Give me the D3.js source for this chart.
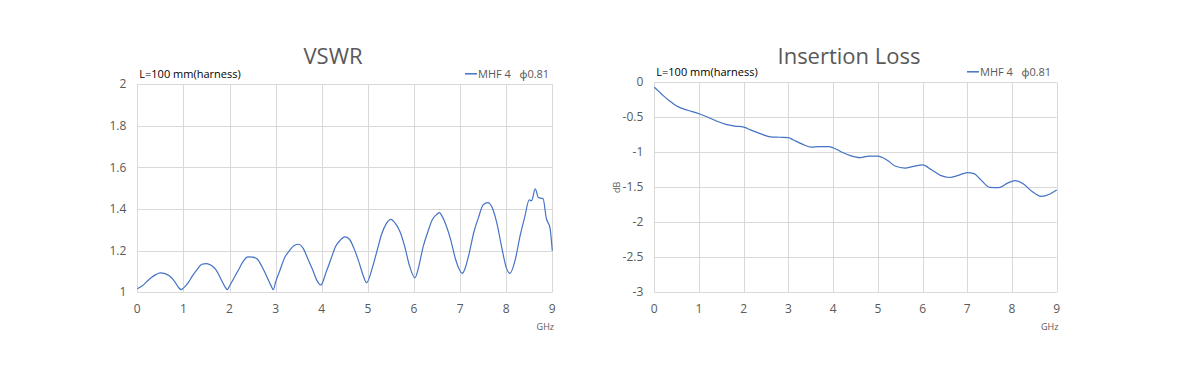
<!DOCTYPE html>
<html>
<head>
<meta charset="utf-8">
<script src="https://cdn.jsdelivr.net/npm/d3@7"></script>
<style>
  body { margin: 0; background: #fff; }
  text { font-family: "Open Sans", "Noto Sans", sans-serif; }
</style>
</head>
<body>
<div id="charts"></div>
<script>
  // VSWR, GHz vs ratio
  var vswrFreq = [0, 0.1, 0.2, 0.3, 0.4, 0.5, 0.6, 0.7, 0.8, 0.9, 0.95,
    1.0, 1.1, 1.2, 1.3, 1.4, 1.5, 1.6, 1.7, 1.8, 1.9, 1.95,
    2.0, 2.1, 2.2, 2.3, 2.4, 2.5, 2.6, 2.7, 2.8, 2.9, 2.95,
    3.0, 3.1, 3.2, 3.3, 3.4, 3.5, 3.6, 3.7, 3.8, 3.9, 3.98,
    4.1, 4.2, 4.3, 4.4, 4.5, 4.6, 4.7, 4.8, 4.9, 4.97,
    5.1, 5.2, 5.3, 5.4, 5.5, 5.6, 5.7, 5.8, 5.9, 6.02,
    6.1, 6.2, 6.3, 6.4, 6.5, 6.55, 6.6, 6.7, 6.8, 6.9, 7.05,
    7.1, 7.2, 7.3, 7.4, 7.5, 7.6, 7.7, 7.8, 7.9, 8.0, 8.08,
    8.2, 8.3, 8.4, 8.5, 8.55, 8.63, 8.7, 8.8, 8.87, 8.95, 9.0]
  var vswrValue = [1.017, 1.03, 1.05, 1.07, 1.085, 1.093, 1.09, 1.078, 1.055, 1.022, 1.013,
    1.02, 1.045, 1.08, 1.11, 1.135, 1.138, 1.13, 1.11, 1.07, 1.027, 1.013,
    1.03, 1.07, 1.11, 1.15, 1.17, 1.169, 1.16, 1.125, 1.08, 1.032, 1.013,
    1.05, 1.11, 1.168, 1.2, 1.225, 1.231, 1.21, 1.16, 1.11, 1.055, 1.035,
    1.1, 1.16, 1.22, 1.25, 1.266, 1.255, 1.21, 1.15, 1.08, 1.046,
    1.12, 1.2, 1.28, 1.33, 1.351, 1.33, 1.29, 1.22, 1.13, 1.07,
    1.12, 1.22, 1.29, 1.35, 1.375, 1.383, 1.37, 1.32, 1.25, 1.16, 1.091,
    1.11, 1.19, 1.29, 1.36, 1.42, 1.431, 1.405, 1.33, 1.22, 1.12, 1.091,
    1.16, 1.27, 1.36, 1.444, 1.44, 1.497, 1.455, 1.45, 1.356, 1.31, 1.199]

  // Insertion loss, GHz vs dB
  var ilFreq = [0, 0.1, 0.2, 0.35, 0.5, 0.75, 1.0, 1.2, 1.4, 1.6, 1.8, 2.0, 2.15, 2.4, 2.6, 2.8,
    3.0, 3.1, 3.3, 3.5, 3.7, 3.9, 4.0, 4.2, 4.4, 4.6, 4.8, 5.0, 5.2, 5.4, 5.6, 5.8,
    6.0, 6.2, 6.4, 6.6, 6.8, 7.0, 7.15, 7.3, 7.5, 7.7, 7.9, 8.07, 8.25, 8.45, 8.65, 8.85, 9.0]
  var ilValue = [-0.07, -0.13, -0.19, -0.27, -0.34, -0.4, -0.45, -0.5, -0.556, -0.6, -0.625, -0.64, -0.68, -0.74, -0.78, -0.785,
    -0.79, -0.82, -0.88, -0.925, -0.92, -0.92, -0.935, -1.0, -1.05, -1.075, -1.055, -1.055, -1.11, -1.2, -1.225, -1.2,
    -1.18, -1.25, -1.33, -1.36, -1.33, -1.29, -1.305, -1.39, -1.5, -1.505, -1.44, -1.405, -1.45, -1.56, -1.63, -1.595, -1.54]

  var freqTicks = [0, 1, 2, 3, 4, 5, 6, 7, 8, 9]
  var vswrTicks = [1, 1.2, 1.4, 1.6, 1.8, 2]
  var ilTicks = [0, -0.5, -1, -1.5, -2, -2.5, -3]

  var width = 1200
  var height = 392

  var svg = d3.select("#charts")
    .append("svg")
    .attr("width", width)
    .attr("height", height)

  function drawChart(opts) {
    var x = d3.scaleLinear().domain([0, 9]).range([opts.left, opts.right])
    var y = d3.scaleLinear().domain(opts.yDomain).range([292.3, opts.top])
    var g = svg.append("g")

    // gridlines
    g.selectAll(".hg")
      .data(opts.yTicks)
      .enter()
      .append("line")
      .attr("x1", opts.left).attr("x2", opts.right)
      .attr("y1", function (d) { return Math.round(y(d)) + 0.5 })
      .attr("y2", function (d) { return Math.round(y(d)) + 0.5 })
      .attr("stroke", "#d9d9d9")
    g.selectAll(".vg")
      .data(freqTicks)
      .enter()
      .append("line")
      .attr("y1", opts.top).attr("y2", 292.3)
      .attr("x1", function (d) { return Math.round(x(d)) + 0.5 })
      .attr("x2", function (d) { return Math.round(x(d)) + 0.5 })
      .attr("stroke", "#d9d9d9")

    // tick labels
    g.selectAll(".yl")
      .data(opts.yTicks)
      .enter()
      .append("text")
      .attr("x", opts.left - 11)
      .attr("y", function (d) { return y(d) + 4 })
      .attr("text-anchor", "end")
      .attr("font-size", 12)
      .attr("fill", "#595959")
      .text(function (d) { return d })
    g.selectAll(".xl")
      .data(freqTicks)
      .enter()
      .append("text")
      .attr("x", function (d) { return x(d) })
      .attr("y", 313)
      .attr("text-anchor", "middle")
      .attr("font-size", 12)
      .attr("fill", "#595959")
      .text(function (d) { return d })

    g.append("text")
      .attr("x", opts.right - 7)
      .attr("y", 330)
      .attr("text-anchor", "middle")
      .attr("font-size", 9)
      .attr("fill", "#595959")
      .text("GHz")

    // series
    var pts = opts.xs.map(function (d, i) { return [d, opts.ys[i]] })
    g.append("path")
      .datum(pts)
      .attr("fill", "none")
      .attr("stroke", "#4472c4")
      .attr("stroke-width", 1.2)
      .attr("d", d3.line()
        .x(function (d) { return x(d[0]) })
        .y(function (d) { return y(d[1]) })
        .curve(d3.curveMonotoneX))

    // title, note, legend
    g.append("text")
      .attr("x", opts.titleX)
      .attr("y", 64)
      .attr("text-anchor", "middle")
      .attr("font-size", 22)
      .attr("fill", "#595959")
      .text(opts.title)
    g.append("text")
      .attr("x", opts.left + 2)
      .attr("y", opts.top - 6)
      .attr("font-size", 11)
      .attr("fill", "#000")
      .text("L=100 mm(harness)")
    g.append("line")
      .attr("x1", opts.legendX).attr("x2", opts.legendX + 12)
      .attr("y1", opts.top - 10.5).attr("y2", opts.top - 10.5)
      .attr("stroke", "#4472c4")
      .attr("stroke-width", 1.5)
    g.append("text")
      .attr("x", opts.legendX + 13)
      .attr("y", opts.top - 6)
      .attr("font-size", 11)
      .attr("fill", "#595959")
      .style("white-space", "pre")
      .text("MHF 4   \u03d50.81")

    if (opts.yLabel) {
      g.append("text")
        .attr("transform", "translate(620," + y(-1.5) + ") rotate(-90)")
        .attr("text-anchor", "middle")
        .attr("font-size", 9)
        .attr("fill", "#595959")
        .text(opts.yLabel)
    }
  }

  drawChart({
    left: 137.3, right: 552.3, top: 84.3,
    yDomain: [1, 2], yTicks: vswrTicks,
    xs: vswrFreq, ys: vswrValue,
    title: "VSWR", titleX: 333, legendX: 465
  })

  drawChart({
    left: 654.3, right: 1056.7, top: 82.3,
    yDomain: [-3, 0], yTicks: ilTicks,
    xs: ilFreq, ys: ilValue,
    title: "Insertion Loss", titleX: 849, legendX: 967,
    yLabel: "dB"
  })
</script>
</body>
</html>
